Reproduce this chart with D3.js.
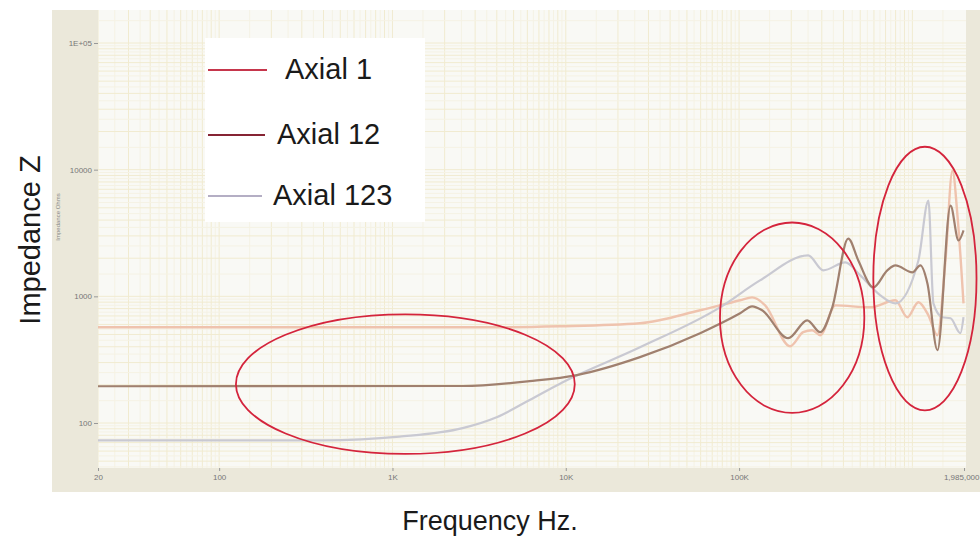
<!DOCTYPE html>
<html>
<head>
<meta charset="utf-8">
<script src="https://cdn.jsdelivr.net/npm/d3@7"></script>
<style>
  html, body { margin: 0; padding: 0; background: #ffffff; }
  svg { display: block; }
</style>
</head>
<body>
<svg id="chart" width="980" height="540"></svg>
<script>
// ---------------- data ----------------
const seriesNames = ["Axial 1", "Axial 12", "Axial 123"];

// [frequency Hz, impedance Ohms]
const axial1 = [
  [20, 570], [4155, 570], [9230, 580], [26800, 613], [59600, 776], [101400, 931],
  [119000, 981], [141400, 849], [197000, 404], [234400, 521], [264000, 540],
  [294000, 493], [359000, 849], [571000, 819], [798000, 931], [935000, 684],
  [1083000, 898], [1237000, 708], [1395000, 493], [1552000, 1920], [1703000, 9820],
  [1820000, 4345], [1972000, 881]
];
const axial12 = [
  [20, 195], [2540, 196], [6190, 214], [11580, 239], [26800, 331], [59600, 512],
  [101400, 735], [119000, 834], [135800, 776], [192000, 467], [247200, 647],
  [294000, 521], [345000, 819], [426700, 2860], [487500, 1920], [595000, 1178],
  [716600, 1603], [798000, 1754], [1000000, 1545], [1112000, 1754], [1221000, 1264],
  [1395000, 376], [1660000, 5210], [1845000, 2760], [1972000, 3311]
];
const axial123 = [
  [20, 73], [400, 73], [1097, 78], [2540, 91], [3990, 111], [6190, 152], [9610, 210],
  [26800, 396], [77600, 818], [132000, 1336], [250600, 2104], [306000, 1603],
  [410000, 1853], [500500, 1463], [653000, 1019], [798000, 881], [1083000, 1920],
  [1237000, 5700], [1322000, 881], [1490000, 684], [1660000, 671], [1893000, 512],
  [1972000, 684]
];

const xTickValues = [20, 100, 1000, 10000, 100000, 1985000];
const xTickLabels = ["20", "100", "1K", "10K", "100K", "1,985,000"];
const yTickValues = [100, 1000, 10000, 100000];
const yTickLabels = ["100", "1000", "10000", "1E+05"];

// annotation ellipses: [fMin, fMax, zMin, zMax]
const ellipses = [
  [125, 11270, 57, 721],
  [77600, 528000, 120, 3826],
  [595000, 2344000, 126, 15170]
];

// ---------------- drawing ----------------
const svg = d3.select("#chart");
const plot = { left: 98, right: 964, top: 10, bottom: 468 };

const x = d3.scaleLog().domain([20, 1985000]).range([98, 964]);
const y = d3.scaleLog().domain([100, 100000]).range([423, 43]);

// beige frame
svg.append("rect").attr("x", 52).attr("y", 10).attr("width", 940).attr("height", 482)
  .attr("fill", "#ebe8da");
// plot area
svg.append("rect").attr("x", plot.left).attr("y", plot.top)
  .attr("width", 966 - plot.left).attr("height", plot.bottom - plot.top)
  .attr("fill", "#f9f9f5");

// clip
svg.append("clipPath").attr("id", "clip").append("rect")
  .attr("x", plot.left).attr("y", plot.top)
  .attr("width", 966 - plot.left).attr("height", plot.bottom - plot.top);

const grid = svg.append("g").attr("clip-path", "url(#clip)");
// vertical grid
const xMinor = [];
for (let e = 1; e <= 6; e++) {
  for (let k = 1; k < 10; k += 0.5) xMinor.push({ v: k * Math.pow(10, e), major: Number.isInteger(k) });
}
grid.selectAll("line.vx").data(xMinor.filter(d => d.v >= 20 && d.v <= 1985000)).enter()
  .append("line")
  .attr("x1", d => x(d.v)).attr("x2", d => x(d.v))
  .attr("y1", plot.top).attr("y2", plot.bottom)
  .attr("stroke", d => d.major ? "#f1ebd0" : "#f5f2e4")
  .attr("stroke-width", 1);
// horizontal grid
const yMinor = [];
for (let e = 1; e <= 5; e++) {
  for (let k = 1; k < 10; k += 0.5) yMinor.push({ v: k * Math.pow(10, e), major: Number.isInteger(k) });
}
grid.selectAll("line.hy").data(yMinor).enter()
  .append("line")
  .attr("x1", plot.left).attr("x2", 966)
  .attr("y1", d => y(d.v)).attr("y2", d => y(d.v))
  .attr("stroke", d => d.major ? "#f1ebd0" : "#f5f2e4")
  .attr("stroke-width", 1);

// axes
const xAxis = d3.axisBottom(x).tickValues(xTickValues)
  .tickFormat((d, i) => xTickLabels[i]).tickSize(3).tickPadding(3);
const gx = svg.append("g").attr("transform", `translate(0,${plot.bottom})`).call(xAxis);
gx.select(".domain").remove();
gx.selectAll("line").attr("stroke", "#999");
gx.selectAll("text").attr("fill", "#777").attr("font-size", 8)
  .attr("font-family", "Liberation Sans, Arial, sans-serif");
// keep the last label inside the picture
gx.selectAll(".tick").filter((d, i) => i === xTickValues.length - 1)
  .select("text").attr("text-anchor", "end").attr("dx", 15);

const yAxis = d3.axisLeft(y).tickValues(yTickValues)
  .tickFormat((d, i) => yTickLabels[i]).tickSize(4).tickPadding(2);
const gy = svg.append("g").attr("transform", `translate(${plot.left},0)`).call(yAxis);
gy.select(".domain").remove();
gy.selectAll("line").attr("stroke", "#999");
gy.selectAll("text").attr("fill", "#777").attr("font-size", 8)
  .attr("font-family", "Liberation Sans, Arial, sans-serif");

// small inner axis title
svg.append("text").attr("transform", "translate(60,217) rotate(-90)")
  .attr("text-anchor", "middle").attr("font-size", 6).attr("fill", "#888")
  .attr("font-family", "Liberation Sans, Arial, sans-serif")
  .text("Impedance Ohms");

// series lines
const line = d3.line().x(d => x(d[0])).y(d => y(d[1])).curve(d3.curveMonotoneX);
const series = [
  { name: seriesNames[0], data: axial1, color: "#efc3ae", w: 2.4 },
  { name: seriesNames[2], data: axial123, color: "#c9c9d2", w: 2.2 },
  { name: seriesNames[1], data: axial12, color: "#a0806f", w: 2.2 }
];
const lines = svg.append("g").attr("clip-path", "url(#clip)");
lines.selectAll("path").data(series).enter().append("path")
  .attr("d", d => line(d.data))
  .attr("fill", "none")
  .attr("stroke", d => d.color)
  .attr("stroke-width", d => d.w)
  .attr("stroke-linejoin", "round");

// legend
const legend = svg.append("g");
legend.append("rect").attr("x", 205).attr("y", 38).attr("width", 220).attr("height", 184)
  .attr("fill", "#ffffff");
const legendItems = [
  { name: seriesNames[0], color: "#c6364c", y: 70, tx: 285, x2: 267 },
  { name: seriesNames[1], color: "#862434", y: 135, tx: 277, x2: 265 },
  { name: seriesNames[2], color: "#b4aec4", y: 196, tx: 273, x2: 262 }
];
legendItems.forEach(it => {
  legend.append("line").attr("x1", 208).attr("x2", it.x2).attr("y1", it.y).attr("y2", it.y)
    .attr("stroke", it.color).attr("stroke-width", 2);
  legend.append("text").attr("x", it.tx).attr("y", it.y + 9)
    .attr("font-size", 29).attr("fill", "#1a1a1a")
    .attr("font-family", "Liberation Sans, Arial, sans-serif")
    .text(it.name);
});

// annotation ellipses
svg.append("g").selectAll("ellipse").data(ellipses).enter().append("ellipse")
  .attr("cx", d => (x(d[0]) + x(d[1])) / 2)
  .attr("cy", d => (y(d[2]) + y(d[3])) / 2)
  .attr("rx", d => (x(d[1]) - x(d[0])) / 2)
  .attr("ry", d => (y(d[2]) - y(d[3])) / 2)
  .attr("fill", "none").attr("stroke", "#d4243c").attr("stroke-width", 1.8);

// big titles
svg.append("text").attr("transform", "translate(40,240) rotate(-90)")
  .attr("text-anchor", "middle").attr("font-size", 29).attr("fill", "#1a1a1a")
  .attr("font-family", "Liberation Sans, Arial, sans-serif")
  .text("Impedance Z");
svg.append("text").attr("x", 490).attr("y", 530)
  .attr("text-anchor", "middle").attr("font-size", 27).attr("fill", "#1a1a1a")
  .attr("font-family", "Liberation Sans, Arial, sans-serif")
  .text("Frequency Hz.");
</script>
</body>
</html>
